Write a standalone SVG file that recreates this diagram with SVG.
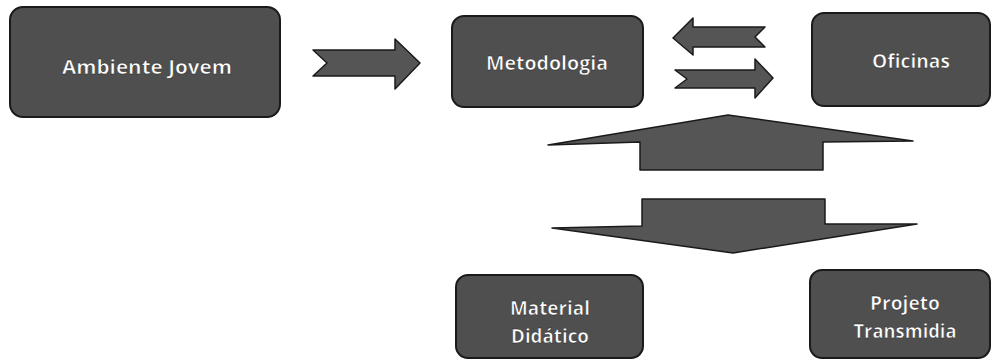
<svg xmlns="http://www.w3.org/2000/svg" width="992" height="360" viewBox="0 0 992 360">
  <style>
    .box { fill: #4f4f4f; stroke: #1a1a1a; stroke-width: 2; }
    .arrow { fill: #555555; stroke: #1a1a1a; stroke-width: 1.5; stroke-linejoin: round; }
    .label { fill: #ffffff; font-family: "Open Sans", "Noto Sans", sans-serif; font-size: 20px; font-weight: 700; text-anchor: middle; dominant-baseline: central; stroke: #222; stroke-width: 0.5; }
  </style>
  <rect width="992" height="360" fill="#ffffff"/>

  <g id="connectors">
    <!-- Ambiente Jovem to Metodologia -->
    <path class="arrow" d="M313,50 L395,50 L395,39 L420,63 L395,89 L395,76 L313,76 L327,63 Z"/>
    <!-- Oficinas to Metodologia -->
    <path class="arrow" d="M765,27 L693,27 L693,18 L673,38 L693,55 L693,47 L765,47 L755,37 Z"/>
    <!-- Metodologia to Oficinas -->
    <path class="arrow" d="M675,70 L755,70 L755,59 L773,78 L755,98 L755,88 L675,88 L687,79 Z"/>
    <!-- up arrow -->
    <path class="arrow" d="M548,145 L640,142 L640,170 L823,170 L823,142 L913,141 L728,115 Z"/>
    <!-- down arrow -->
    <path class="arrow" d="M642,199 L825,199 L825,224 L917,224 L733,253 L552,228 L642,226 Z"/>
  </g>

  <g id="node-ambiente-jovem">
    <rect class="box" x="10" y="7" width="270" height="110" rx="13"/>
    <text class="label" x="147" y="66" textLength="170" lengthAdjust="spacingAndGlyphs">Ambiente Jovem</text>
  </g>

  <g id="node-metodologia">
    <rect class="box" x="452" y="16" width="191" height="91" rx="12"/>
    <text class="label" x="547" y="62" textLength="122" lengthAdjust="spacingAndGlyphs">Metodologia</text>
  </g>

  <g id="node-oficinas">
    <rect class="box" x="812" y="13" width="178" height="93" rx="12"/>
    <text class="label" x="911" y="60" textLength="78" lengthAdjust="spacingAndGlyphs">Oficinas</text>
  </g>

  <g id="node-material-didatico">
    <rect class="box" x="456" y="275" width="187" height="83" rx="12"/>
    <text class="label" x="550" y="307" textLength="80" lengthAdjust="spacingAndGlyphs">Material</text>
    <text class="label" x="550" y="335" textLength="78" lengthAdjust="spacingAndGlyphs">Didático</text>
  </g>

  <g id="node-projeto-transmidia">
    <rect class="box" x="810" y="270" width="180" height="88" rx="12"/>
    <text class="label" x="905" y="302" textLength="70" lengthAdjust="spacingAndGlyphs">Projeto</text>
    <text class="label" x="905" y="330" textLength="103" lengthAdjust="spacingAndGlyphs">Transmidia</text>
  </g>
</svg>
